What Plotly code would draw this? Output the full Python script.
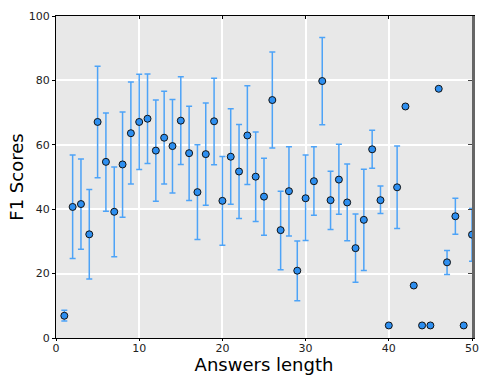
import plotly.graph_objects as go

answer_length = list(range(1, 51))
f1_scores = [6.9, 40.7, 41.6, 32.2, 67.1, 54.7, 39.2, 53.9, 63.6, 67.1,
             68.1, 58.2, 62.2, 59.6, 67.5, 57.4, 45.3, 57.1, 67.3, 42.6,
             56.3, 51.7, 62.9, 50.1, 43.9, 73.9, 33.5, 45.6, 20.9, 43.4,
             48.7, 79.8, 42.8, 49.2, 42.1, 27.9, 36.7, 58.6, 42.8, 3.9,
             46.8, 71.9, 16.3, 3.9, 3.9, 77.4, 23.5, 37.8, 3.9, 32.1]
upper_bound = [8.6, 56.8, 55.6, 46.1, 84.4, 69.9, 53.1, 70.2, 79.5, 81.9,
               82.0, 73.9, 76.6, 74.1, 81.1, 72.0, 60.0, 73.0, 80.7, 56.4,
               71.2, 66.3, 78.3, 64.0, 55.8, 88.8, 45.6, 59.4, 30.1, 56.8,
               59.4, 93.3, 51.8, 60.2, 54.0, 38.5, 52.4, 64.5, 47.2, None,
               59.6, None, None, None, None, None, 27.2, 43.4, None, 40.2]
lower_bound = [5.3, 24.7, 27.6, 18.3, 49.8, 39.4, 25.2, 37.5, 47.8, 52.3,
               54.2, 42.5, 47.8, 45.0, 53.9, 42.7, 30.6, 41.2, 53.8, 28.8,
               41.5, 37.1, 47.7, 36.2, 31.9, 59.0, 21.2, 31.7, 11.6, 30.3,
               38.1, 66.2, 33.7, 38.4, 30.2, 17.3, 21.0, 52.7, 38.7, None,
               34.0, None, None, None, None, None, 19.7, 32.2, None, 23.8]

x_ticks = [0, 10, 20, 30, 40, 50]
y_ticks = [0, 20, 40, 60, 80, 100]

err_plus = [None if u is None else u - v for u, v in zip(upper_bound, f1_scores)]
err_minus = [None if l is None else v - l for l, v in zip(lower_bound, f1_scores)]

FONT = "DejaVu Sans"
BAR = "#4da3f7"

fig = go.Figure()
fig.add_trace(go.Scatter(
    x=answer_length, y=f1_scores, mode="markers",
    marker=dict(size=7, color="#2e8ff0", line=dict(color="#111111", width=1)),
    error_y=dict(type="data", symmetric=False, array=err_plus, arrayminus=err_minus,
                 color=BAR, thickness=1.5, width=3),
    showlegend=False,
))
# invisible trace to activate the mirrored top/right axes
fig.add_trace(go.Scatter(x=[None], y=[None], xaxis="x2", yaxis="y2",
                         showlegend=False, hoverinfo="skip"))

fig.update_layout(
    width=479, height=375,
    margin=dict(l=56, r=7, t=16, b=37),
    paper_bgcolor="white",
    plot_bgcolor="#e8e8e8",
    font=dict(family=FONT, size=11, color="#222222"),
    xaxis=dict(range=[0, 50], tickvals=x_ticks, ticks="outside", ticklen=2,
               tickcolor="black", showline=True, linecolor="black", linewidth=1,
               ticklabelstandoff=-2,
               showgrid=True, gridcolor="white", gridwidth=1.5, zeroline=False,
               title=dict(text="Answers length", font=dict(size=18, family=FONT, color="black"),
                          standoff=6),
               automargin=False),
    yaxis=dict(range=[0, 100], tickvals=y_ticks, ticks="outside", ticklen=3,
               tickcolor="black", showline=True, linecolor="black", linewidth=1,
               showgrid=True, gridcolor="white", gridwidth=1.5, zeroline=False,
               title=dict(text="F1 Scores", font=dict(size=18, family=FONT, color="black"),
                          standoff=0),
               automargin=False),
    xaxis2=dict(range=[0, 50], tickvals=x_ticks, overlaying="x", side="top",
                ticks="inside", ticklen=3, tickcolor="black", showticklabels=False,
                showline=True, linecolor="black", linewidth=1.2, showgrid=False,
                zeroline=False, automargin=False),
    yaxis2=dict(range=[0, 100], tickvals=y_ticks, overlaying="y", side="right",
                ticks="inside", ticklen=4, tickcolor="#444444", showticklabels=False,
                showline=True, linecolor="#666666", linewidth=2.5, showgrid=False,
                zeroline=False, automargin=False),
)

fig.write_html("out.html", config={"displayModeBar": False},
               post_script="document.body.style.margin='0';document.body.style.padding='0';")
